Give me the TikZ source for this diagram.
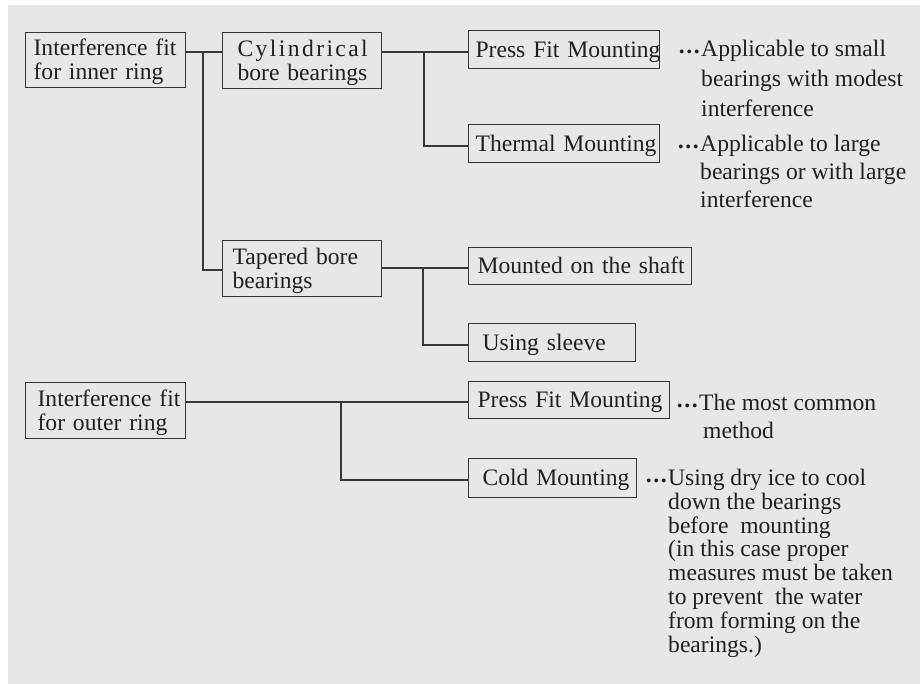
\documentclass[tikz,border=0pt]{standalone}
\usepackage{fontspec}
\setmainfont{Liberation Serif}
\definecolor{bg}{RGB}{230,231,233}
\definecolor{ink}{RGB}{35,31,32}
\definecolor{edge}{RGB}{55,55,55}
\newcommand\myls{\kern2.4pt}
\newcommand\mydots{\llap{\raisebox{3pt}{\bfseries .\kern1.6pt.\kern1.6pt.}\kern1.5pt}}
\newcommand\padded[2]{\hspace*{#1}\raisebox{-3pt}[\height][\depth]{\begin{tabular}{@{}l@{}}#2\end{tabular}}}
\begin{document}
\begin{tikzpicture}[x=1pt,y=-1pt,
  box/.style={draw=edge, line width=1.2pt, anchor=north west, inner xsep=0pt, inner ysep=0pt,
    align=left, text=ink, font=\fontsize{23.6}{24}\selectfont},
  note/.style={anchor=north west, inner sep=0pt, align=left, text=ink},
  conn/.style={draw=edge, line width=1.2pt}]
\useasboundingbox (0,0) rectangle (920,684);
\fill[bg] (8,5) rectangle (920,684);
% boxes
\node[box, text width=160pt, minimum height=55pt] (inner) at (25,32) {\padded{8pt}{Interference fit\\for inner ring}};
\node[box, text width=159pt, minimum height=56pt] (cyl) at (222,32) {\padded{15pt}{C\myls y\myls l\myls i\myls n\myls d\myls r\myls i\myls c\myls a\myls l\\bore bearings}};
\node[box, text width=159pt, minimum height=56pt] (taper) at (222,240) {\padded{10pt}{Tapered bore\\bearings}};
\node[box, text width=160pt, minimum height=56pt] (outer) at (25,382) {\padded{12pt}{Interference fit\\for outer ring}};
\node[box, text width=191pt, minimum height=38pt] (pf1) at (468,30) {\padded{7pt}{Press Fit Mounting}};
\node[box, text width=191pt, minimum height=38pt] (therm) at (468,124) {\padded{7pt}{Thermal Mounting}};
\node[box, text width=223pt, minimum height=37pt] (shaft) at (468,247) {\padded{9pt}{Mounted on the shaft}};
\node[box, text width=167pt, minimum height=38pt] (sleeve) at (468,323) {\padded{14pt}{Using sleeve}};
\node[box, text width=201pt, minimum height=37pt] (pf2) at (468,381) {\padded{9pt}{Press Fit Mounting}};
\node[box, text width=168pt, minimum height=39pt] (cold) at (468,458) {\padded{14pt}{Cold Mounting}};
% junctions
\coordinate (j1) at (203,52);  \coordinate (j1b) at (203,270);
\coordinate (j2) at (424,52);  \coordinate (j2b) at (424,146);
\coordinate (j3) at (423,268); \coordinate (j3b) at (423,345);
\coordinate (j4) at (341,402); \coordinate (j4b) at (341,480);
% connectors
\draw[conn] (inner.east |- j1) -- (cyl.west |- j1);
\draw[conn] (j1) -- (j1b) -- (j1b -| taper.west);
\draw[conn] (cyl.east |- j2) -- (pf1.west |- j2);
\draw[conn] (j2) -- (j2b) -- (j2b -| therm.west);
\draw[conn] (taper.east |- j3) -- (shaft.west |- j3);
\draw[conn] (j3) -- (j3b) -- (j3b -| sleeve.west);
\draw[conn] (outer.east |- j4) -- (pf2.west |- j4);
\draw[conn] (j4) -- (j4b) -- (j4b -| cold.west);
% notes
\node[note, font=\fontsize{23.6}{30}\selectfont] (n1) at (701,40) {\mydots Applicable to small\\bearings with modest\\interference};
\node[note, font=\fontsize{23.6}{28}\selectfont] (n2) at (700,135) {\mydots Applicable to large\\bearings or with large\\interference};
\node[note, font=\fontsize{23.6}{28}\selectfont] (n3) at (699,394) {\mydots The most common\\\hspace*{4pt}method};
\node[note, font=\fontsize{23.6}{23.8}\selectfont] (n4) at (668,469) {\mydots Using dry ice to cool\\down the bearings\\before~~mounting\\(in this case proper\\measures must be taken\\to prevent~~the water\\from forming on the\\bearings.)};
\end{tikzpicture}
\end{document}
